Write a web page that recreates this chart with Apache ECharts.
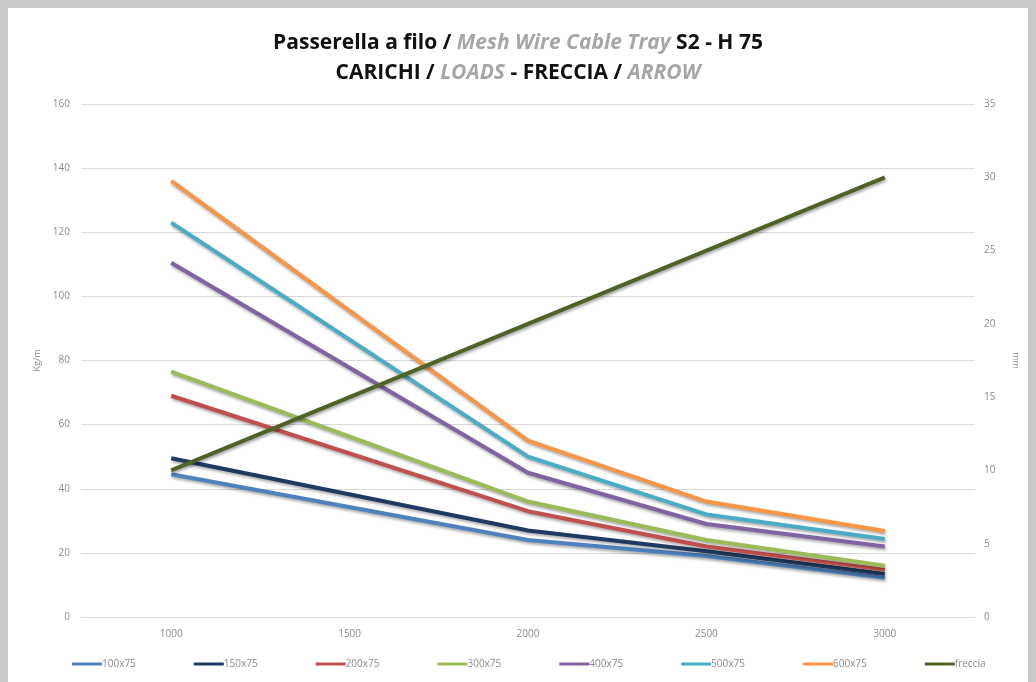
<!DOCTYPE html>
<html>
<head>
<meta charset="utf-8">
<script src="https://cdn.jsdelivr.net/npm/echarts@6/dist/echarts.min.js"></script>
<style>
html,body{margin:0;padding:0;}
#frame{position:absolute;left:0;top:0;width:1036px;height:682px;background:#c9c9c9;}
#chart{position:absolute;left:8px;top:8px;width:1020px;height:674px;background:#ffffff;}
</style>
</head>
<body>
<div id="frame"><div id="chart"></div></div>
<script>
// Data
const spans = [1000, 2000, 2500, 3000];
const xTicks = [1000, 1500, 2000, 2500, 3000];
const s100x75 = [44.5, 24, 19, 12.2];
const s150x75 = [49.5, 27, 20.5, 13.4];
const s200x75 = [69, 33, 22, 14.7];
const s300x75 = [76.5, 36, 24, 16];
const s400x75 = [110.5, 45, 29, 22];
const s500x75 = [123, 50, 32, 24.3];
const s600x75 = [136, 55, 36, 26.8];
const freccia = [10, 20, 25, 30];

const seriesNames = ['100x75','150x75','200x75','300x75','400x75','500x75','600x75','freccia'];
const seriesValues = [s100x75, s150x75, s200x75, s300x75, s400x75, s500x75, s600x75, freccia];
const colors = ['#4f81bd','#1f3a60','#c0504d','#9bbb59','#8064a2','#4bacc6','#f79646','#4f6228'];

const chart = echarts.init(document.getElementById('chart'), null, {renderer:'canvas'});

const series = seriesNames.map((name, i) => ({
  name: name,
  type: 'line',
  yAxisIndex: name === 'freccia' ? 1 : 0,
  data: spans.map((x, j) => [x, seriesValues[i][j]]),
  symbol: 'none',
  lineStyle: {
    width: 4,
    color: colors[i],
    shadowColor: 'rgba(0,0,0,0.35)',
    shadowBlur: 3,
    shadowOffsetX: 1,
    shadowOffsetY: 2
  },
  itemStyle: {color: colors[i]}
}));

const labelFont = {color:'#8a8a8a', fontSize:10, fontFamily:'Open Sans'};

chart.setOption({
  animation: false,
  color: colors,
  title: {
    left: 'center',
    top: 15,
    text: '{b|Passerella a filo / }{g|Mesh Wire Cable Tray}{b| S2 - H 75}\n{b|CARICHI / }{g|LOADS}{b| - FRECCIA / }{g|ARROW}',
    textStyle: {
      rich: {
        b: {fontFamily:'Open Sans', fontWeight:'bold', fontSize:21, color:'#111', lineHeight:30},
        g: {fontFamily:'Open Sans', fontStyle:'italic', fontSize:21, color:'#a6a6a6', lineHeight:30}
      }
    }
  },
  grid: {left:74, right:45, top:96, bottom:65},
  legend: {
    left: 59,
    top: 646,
    icon: 'rect',
    itemWidth: 30,
    itemHeight: 3,
    itemGap: 58,
    textStyle: {color:'#8a8a8a', fontSize:10, fontFamily:'Open Sans', padding:[0,0,0,-5]},
    data: seriesNames
  },
  xAxis: {
    type: 'value',
    min: 750,
    max: 3250,
    axisLine: {show:true, lineStyle:{color:'#d9d9d9'}},
    axisTick: {show:false},
    splitLine: {show:false},
    axisLabel: Object.assign({customValues: xTicks, margin: 12, formatter: v => String(v)}, labelFont)
  },
  yAxis: [
    {
      type: 'value',
      min: 0, max: 160, interval: 20,
      name: 'Kg/m',
      nameLocation: 'middle',
      nameGap: 38,
      nameTextStyle: {color:'#8a8a8a', fontSize:9, fontFamily:'Open Sans'},
      axisLine: {show:false},
      axisTick: {show:false},
      splitLine: {show:true, lineStyle:{color:'#d9d9d9', width:1}},
      axisLabel: Object.assign({margin: 12}, labelFont)
    },
    {
      type: 'value',
      min: 0, max: 35, interval: 5,
      name: 'mm',
      nameLocation: 'middle',
      nameGap: 37,
      nameRotate: -90,
      nameTextStyle: {color:'#8a8a8a', fontSize:9, fontFamily:'Open Sans'},
      axisLine: {show:false},
      axisTick: {show:false},
      splitLine: {show:false},
      axisLabel: Object.assign({margin: 10}, labelFont)
    }
  ],
  series: series
});
</script>
</body>
</html>
